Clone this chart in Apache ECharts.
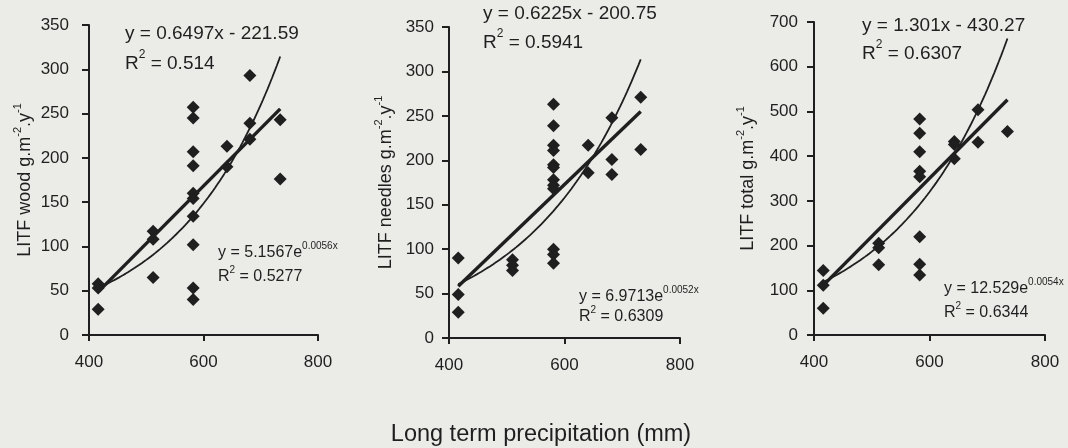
<!DOCTYPE html>
<html><head><meta charset="utf-8">
<script src="https://cdn.jsdelivr.net/npm/echarts@6/dist/echarts.min.js"></script>
<style>html,body{margin:0;padding:0;background:#ebebe8;}#c{width:1068px;height:448px;}</style>
</head><body><div id="c"></div>
<script>
// ---- data ----
const xAxisRange = [400, 800, 200];          // min, max, interval (mm)
const yAxisRanges = [[0, 350, 50], [0, 350, 50], [0, 700, 100]];
const yTitles = ['LITF wood', 'LITF needles', 'LITF total'];
const xTitle = 'Long term precipitation (mm)';

const woodData = [
  [416,58],[416,53],[416,29],
  [512,117],[512,108],[512,65],
  [582,257],[582,245],[582,207],[582,191],[582,160],[582,154],[582,134],[582,102],[582,53],[582,40],
  [641,213],[641,190],
  [681,293],[681,239],[681,221],
  [734,243],[734,176]
];
const needlesData = [
  [416,90],[416,49],[416,29],
  [510,88],[510,82],[510,76],
  [581,263],[581,239],[581,217],[581,211],[581,195],[581,192],[581,178],[581,172],[581,168],[581,100],[581,94],[581,84],
  [641,217],[641,186],
  [682,248],[682,201],[682,184],
  [732,271],[732,212]
];
const totalData = [
  [416,144],[416,111],[416,60],
  [512,205],[512,195],[512,157],
  [583,483],[583,451],[583,410],[583,366],[583,354],[583,220],[583,158],[583,134],
  [643,433],[643,426],[643,394],
  [684,504],[684,431],
  [735,455]
];
// trend-line coefficients as printed on the chart
const linFits = [[0.6497, -221.59], [0.6225, -200.75], [1.301, -430.27]];
const expFits = [[5.1567, 0.0056], [6.9713, 0.0052], [12.529, 0.0054]];
const linLabels = [['y = 0.6497x - 221.59', '0.514'], ['y = 0.6225x - 200.75', '0.5941'], ['y = 1.301x - 430.27', '0.6307']];
const expLabels = [['y = 5.1567e', '0.0056x', '0.5277'], ['y = 6.9713e', '0.0052x', '0.6309'], ['y = 12.529e', '0.0054x', '0.6344']];

// ---- layout ----
const INK = '#1f1f1f';
const FONT = "'Liberation Sans', Arial, sans-serif";
const grids = [
  {left: 89, top: 25, width: 229, height: 310},
  {left: 449, top: 27, width: 231, height: 311},
  {left: 814, top: 22, width: 231, height: 313}
];
const yLabelMargins = [20, 15, 16];
const yNameGaps = [55, 54, 57];
const linPos = [[125, 31, 61], [483, 11, 40], [862, 23, 51]];
const expPos = [[218, 251, 275], [579, 295, 315], [944, 287, 311]];
const datasets = [woodData, needlesData, totalData];

const xAxes = [], yAxes = [], series = [], graphics = [];
datasets.forEach((d, i) => {
  xAxes.push({
    type: 'value', gridIndex: i, min: xAxisRange[0], max: xAxisRange[1], interval: xAxisRange[2],
    axisLine: {lineStyle: {color: INK, width: 2}},
    axisTick: {length: 6, lineStyle: {color: INK, width: 2}},
    axisLabel: {margin: 19, color: INK, fontSize: 17, fontFamily: FONT},
    splitLine: {show: false}
  });
  yAxes.push({
    type: 'value', gridIndex: i, min: yAxisRanges[i][0], max: yAxisRanges[i][1], interval: yAxisRanges[i][2],
    axisLine: {show: true, lineStyle: {color: INK, width: 2}},
    axisTick: {show: true, length: 7, lineStyle: {color: INK, width: 2}},
    axisLabel: {margin: yLabelMargins[i], color: INK, fontSize: 17, fontFamily: FONT},
    splitLine: {show: false},
    name: '{t|' + yTitles[i] + ' g.m}{s|-2}{t|.y}{s|-1}',
    nameLocation: 'middle', nameRotate: 90, nameGap: yNameGaps[i],
    nameTextStyle: {rich: {
      t: {fontSize: 18, fontFamily: FONT, color: INK, padding: [4, 0, 0, 0]},
      s: {fontSize: 11, fontFamily: FONT, color: INK, verticalAlign: 'top'}
    }}
  });
  series.push({
    type: 'scatter', xAxisIndex: i, yAxisIndex: i, data: d,
    symbol: 'diamond', symbolSize: 13, itemStyle: {color: INK, opacity: 1}, z: 2
  });
  const xs = d.map(p => p[0]);
  const x0 = Math.min(...xs), x1 = Math.max(...xs);
  const [a, b] = linFits[i];
  series.push({
    type: 'line', xAxisIndex: i, yAxisIndex: i, showSymbol: false, symbol: 'none',
    data: [[x0, a * x0 + b], [x1, a * x1 + b]],
    lineStyle: {color: INK, width: 3.4}, z: 3
  });
  const [c, k] = expFits[i];
  const ex = [];
  for (let x = x0; x <= x1; x += 4) ex.push([x, c * Math.exp(k * x)]);
  ex.push([x1, c * Math.exp(k * x1)]);
  series.push({
    type: 'line', xAxisIndex: i, yAxisIndex: i, showSymbol: false, symbol: 'none',
    data: ex, lineStyle: {color: INK, width: 1.8}, z: 3
  });
  // annotations
  const bigRich = {
    a: {fontSize: 19, fontFamily: FONT, fill: INK, color: INK, padding: [5, 0, 0, 0]},
    s: {fontSize: 12, fontFamily: FONT, fill: INK, color: INK, verticalAlign: 'top'}
  };
  const smallRich = {
    a: {fontSize: 16, fontFamily: FONT, fill: INK, color: INK, padding: [4, 0, 0, 0]},
    s: {fontSize: 10, fontFamily: FONT, fill: INK, color: INK, verticalAlign: 'top'}
  };
  graphics.push({type: 'text', x: linPos[i][0], y: linPos[i][1],
    style: {text: '{a|' + linLabels[i][0] + '}', rich: bigRich, align: 'left', verticalAlign: 'middle'}});
  graphics.push({type: 'text', x: linPos[i][0], y: linPos[i][2],
    style: {text: '{a|R}{s|2}{a| = ' + linLabels[i][1] + '}', rich: bigRich, align: 'left', verticalAlign: 'middle'}});
  graphics.push({type: 'text', x: expPos[i][0], y: expPos[i][1],
    style: {text: '{a|' + expLabels[i][0] + '}{s|' + expLabels[i][1] + '}', rich: smallRich, align: 'left', verticalAlign: 'middle'}});
  graphics.push({type: 'text', x: expPos[i][0], y: expPos[i][2],
    style: {text: '{a|R}{s|2}{a| = ' + expLabels[i][2] + '}', rich: smallRich, align: 'left', verticalAlign: 'middle'}});
});
graphics.push({type: 'text', x: 541, y: 435,
  style: {text: xTitle, fontSize: 23.5, fontFamily: FONT, fill: INK, align: 'center', verticalAlign: 'middle'}});

const chart = echarts.init(document.getElementById('c'), null, {renderer: 'canvas'});
chart.setOption({
  backgroundColor: '#ebebe8',
  animation: false,
  grid: grids.map(g => Object.assign({containLabel: false, outerBoundsMode: 'none'}, g)),
  xAxis: xAxes, yAxis: yAxes, series: series, graphic: graphics
});
</script></body></html>
